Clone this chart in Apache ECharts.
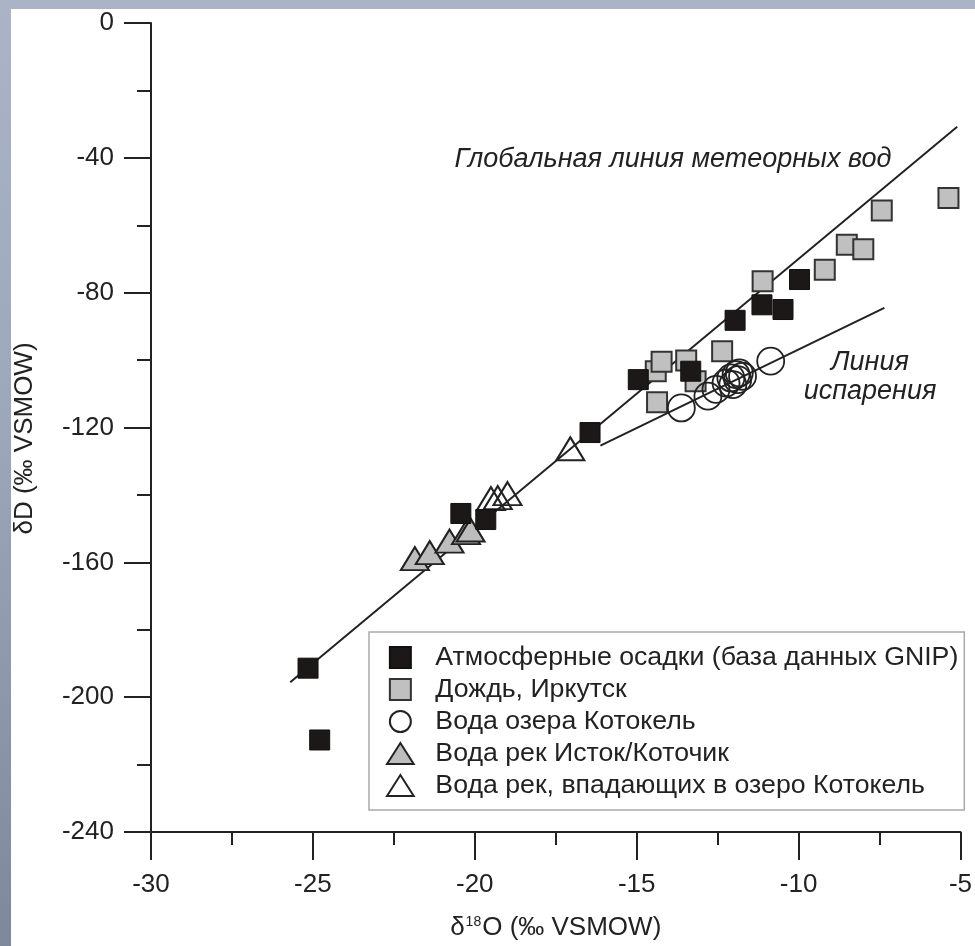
<!DOCTYPE html>
<html>
<head>
<meta charset="utf-8">
<title>δD – δ18O</title>
<script src="https://cdn.jsdelivr.net/npm/echarts@6.0.0/dist/echarts.min.js"></script>
<style>
  html, body {
    margin: 0;
    padding: 0;
    width: 975px;
    height: 946px;
    overflow: hidden;
    background: linear-gradient(180deg, #aab4c6 0%, #9ca7b9 45%, #7d889a 100%);
  }
  .panel {
    position: absolute;
    left: 11px;
    top: 9px;
    right: 0;
    bottom: 0;
    background: #fff;
  }
  #chart {
    position: absolute;
    left: 0;
    top: 0;
    width: 975px;
    height: 946px;
  }
</style>
</head>
<body>
<div class="panel"></div>
<div id="chart"></div>
<script>
// атмосферные осадки (GNIP)
const gnipX = [-25.15, -24.79, -20.43, -19.66, -16.44, -14.95, -13.33, -11.96, -11.13, -10.48, -9.97]
const gnipY = [-191.4, -212.7, -145.5, -147.3, -121.5, -105.8, -103.3, -88.2, -83.6, -85.0, -76.1]

// дождь, Иркутск
const rainX = [-14.41, -14.23, -13.47, -13.18, -12.36, -14.37, -11.11, -9.19, -8.51, -8.0, -7.43, -5.37]
const rainY = [-103.3, -100.5, -100.1, -106.3, -97.4, -112.5, -76.6, -73.2, -65.8, -67.1, -55.6, -51.9]

// вода озера Котокель
const lakeX = [-13.62, -12.8, -12.55, -12.24, -12.09, -11.93, -11.83, -11.73, -11.88, -12.03, -10.86]
const lakeY = [-114.2, -110.7, -108.7, -106.8, -105.3, -104.3, -103.8, -104.8, -105.8, -107.3, -100.3]

// вода рек Исток/Коточик
const riverX = [-21.85, -21.39, -20.78, -20.27, -20.13]
const riverY = [-158.9, -157.1, -153.7, -151.2, -150.4]

// вода рек, впадающих в озеро
const inflowX = [-19.5, -19.29, -18.99, -17.05]
const inflowY = [-141.1, -140.8, -139.6, -126.3]

// линии: глобальная линия метеорных вод и линия испарения (концы)
const gmwlX = [-25.7, -5.1]
const gmwlY = [-195.6, -30.8]
const evapX = [-16.12, -7.35]
const evapY = [-125.4, -84.5]

const seriesNames = [
  'Атмосферные осадки (база данных GNIP)',
  'Дождь, Иркутск',
  'Вода озера Котокель',
  'Вода рек Исток/Коточик',
  'Вода рек, впадающих в озеро Котокель'
]

const FONT = '"Liberation Sans", Arial, sans-serif'
const INK = '#222'
const FS = 26

const pairs = (xs, ys) => xs.map((x, i) => [x, ys[i]])

const chart = echarts.init(document.getElementById('chart'))

chart.setOption({
  backgroundColor: 'transparent',
  animation: false,
  textStyle: { fontFamily: FONT, color: INK },
  grid: { left: 151, top: 23, width: 815, height: 810 },
  xAxis: {
    type: 'value',
    min: -30,
    max: -5,
    interval: 5,
    name: '{d|δ}{sup|18}{d|O (‰ VSMOW)}',
    nameLocation: 'middle',
    nameGap: 83,
    nameTextStyle: {
      rich: {
        d: { fontSize: FS, fontFamily: FONT, color: INK },
        sup: { fontSize: 14, fontFamily: FONT, color: INK, padding: [0, 1, 12, 1] }
      }
    },
    axisLine: { onZero: false, lineStyle: { color: INK, width: 2 } },
    axisTick: { length: 28, lineStyle: { color: INK, width: 2 } },
    minorTick: { show: true, splitNumber: 2, length: 13, lineStyle: { color: INK, width: 2 } },
    splitLine: { show: false },
    axisLabel: { fontSize: FS, color: INK, margin: 40, fontFamily: FONT }
  },
  yAxis: {
    type: 'value',
    min: -240,
    max: 0,
    interval: 40,
    name: 'δD (‰ VSMOW)',
    nameLocation: 'middle',
    nameGap: 113,
    nameTextStyle: { fontSize: FS, color: INK, fontFamily: FONT, padding: [0, 22, 0, 0] },
    axisLine: { onZero: false, lineStyle: { color: INK, width: 2 } },
    axisTick: { length: 27, lineStyle: { color: INK, width: 2 } },
    minorTick: { show: true, splitNumber: 2, length: 14, lineStyle: { color: INK, width: 2 } },
    splitLine: { show: false },
    axisLabel: { fontSize: FS, color: INK, margin: 37, fontFamily: FONT }
  },
  legend: {
    orient: 'vertical',
    left: 369,
    top: 632,
    padding: [12, 6, 11, 17],
    itemWidth: 60,
    itemHeight: 21,
    itemGap: 5,
    borderColor: '#aaa',
    borderWidth: 1.5,
    backgroundColor: '#fff',
    selectedMode: false,
    textStyle: { fontSize: 26.7, color: INK, fontFamily: FONT },
    data: [
      { name: seriesNames[0], icon: 'path://M0,0H20V20H0Z' },
      { name: seriesNames[1], icon: 'path://M0,0H20V20H0Z' },
      { name: seriesNames[2], icon: 'path://M0,13A13,13 0 1,1 26,13A13,13 0 1,1 0,13Z' },
      { name: seriesNames[3], icon: 'path://M14,0L28,22L0,22Z' },
      { name: seriesNames[4], icon: 'path://M14,0L28,22L0,22Z' }
    ]
  },
  graphic: [
    {
      type: 'text',
      x: 673,
      y: 159,
      z: 10,
      style: {
        text: 'Глобальная линия метеорных вод',
        font: 'italic 27px ' + FONT,
        fill: INK,
        align: 'center',
        verticalAlign: 'middle'
      }
    },
    {
      type: 'text',
      x: 870,
      y: 377,
      z: 10,
      style: {
        text: 'Линия\nиспарения',
        font: 'italic 27px ' + FONT,
        lineHeight: 29,
        fill: INK,
        align: 'center',
        verticalAlign: 'middle'
      }
    }
  ],
  series: [
    {
      name: 'GMWL',
      type: 'line',
      z: 1,
      data: pairs(gmwlX, gmwlY),
      symbol: 'none',
      lineStyle: { color: INK, width: 2 }
    },
    {
      name: 'evap',
      type: 'line',
      z: 1,
      data: pairs(evapX, evapY),
      symbol: 'none',
      lineStyle: { color: INK, width: 2 }
    },
    {
      name: seriesNames[3],
      type: 'scatter',
      z: 2,
      symbol: 'triangle',
      symbolSize: [28, 23],
      data: pairs(riverX, riverY),
      itemStyle: { color: '#bdbdbd', borderColor: INK, borderWidth: 2, opacity: 1 }
    },
    {
      name: seriesNames[4],
      type: 'scatter',
      z: 2,
      symbol: 'triangle',
      symbolSize: [28, 23],
      data: pairs(inflowX, inflowY),
      itemStyle: { color: 'rgba(255,255,255,0)', borderColor: INK, borderWidth: 2, opacity: 1 }
    },
    {
      name: seriesNames[1],
      type: 'scatter',
      z: 3,
      symbol: 'rect',
      symbolSize: 20,
      data: pairs(rainX, rainY),
      itemStyle: { color: '#c0c0c0', borderColor: '#333', borderWidth: 2, opacity: 1 }
    },
    {
      name: seriesNames[0],
      type: 'scatter',
      z: 4,
      symbol: 'rect',
      symbolSize: 20,
      data: pairs(gnipX, gnipY),
      itemStyle: { color: '#1c1818', borderColor: '#111', borderWidth: 1, opacity: 1 }
    },
    {
      name: seriesNames[2],
      type: 'scatter',
      z: 5,
      symbol: 'circle',
      symbolSize: 27,
      data: pairs(lakeX, lakeY),
      itemStyle: { color: 'rgba(255,255,255,0)', borderColor: INK, borderWidth: 1.8, opacity: 1 }
    }
  ]
})

window.addEventListener('resize', () => chart.resize())
</script>
</body>
</html>
